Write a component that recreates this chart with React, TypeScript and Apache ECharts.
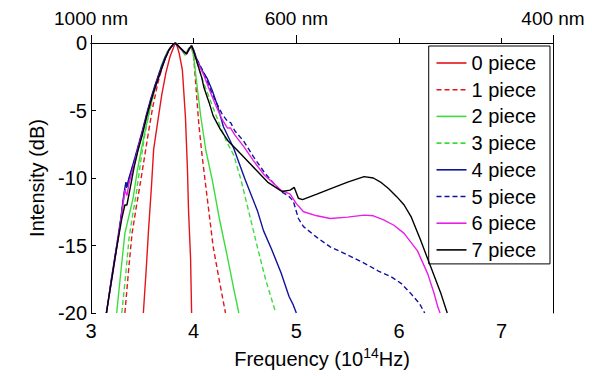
import React, { useEffect, useRef } from "react";
import * as echarts from "echarts";

const seriesNames = ["0 piece", "1 piece", "2 piece", "3 piece", "4 piece", "5 piece", "6 piece", "7 piece"];

const freq0 = [3.51, 3.54, 3.56, 3.59, 3.61, 3.65, 3.69, 3.73, 3.77, 3.81, 3.83, 3.86, 3.89, 3.92, 3.94, 3.95, 3.97, 3.98];
const db0 = [-20, -16.5, -13.9, -10.5, -7.9, -5.8, -3.8, -2.2, -1.0, -0.2, 0, -0.8, -2.0, -5.5, -9.5, -12.4, -16, -20];

const freq1 = [3.33, 3.37, 3.40, 3.44, 3.48, 3.52, 3.56, 3.60, 3.65, 3.70, 3.75, 3.80, 3.83, 3.87, 3.92, 3.95, 3.98, 4.00, 4.02, 4.05, 4.08, 4.11, 4.15, 4.19, 4.25, 4.31];
const db1 = [-20, -16.5, -14.1, -12.2, -10.4, -8.5, -6.6, -4.8, -3.0, -1.6, -0.6, -0.1, 0, -0.4, -0.9, -0.5, -0.3, -1.0, -3.0, -6.0, -8.2, -10.1, -12.6, -15.1, -17.6, -20];

const freq2 = [3.25, 3.29, 3.33, 3.37, 3.41, 3.45, 3.49, 3.53, 3.58, 3.63, 3.69, 3.74, 3.79, 3.83, 3.87, 3.92, 3.95, 3.98, 4.00, 4.03, 4.07, 4.12, 4.18, 4.25, 4.33, 4.39, 4.44];
const db2 = [-20, -17, -14.1, -12.8, -11.5, -9.5, -7.9, -6.4, -4.7, -3.2, -1.6, -0.7, -0.2, 0, -0.4, -0.9, -0.5, -0.3, -1.0, -3.0, -5.5, -8.0, -10.1, -13.0, -15.9, -18.2, -20];

const freq3 = [3.30, 3.34, 3.37, 3.40, 3.44, 3.48, 3.52, 3.57, 3.62, 3.68, 3.74, 3.79, 3.83, 3.87, 3.92, 3.95, 3.98, 4.02, 4.08, 4.14, 4.20, 4.26, 4.32, 4.39, 4.46, 4.54, 4.62, 4.70, 4.80];
const db3 = [-20, -17, -14.5, -13, -11.2, -9, -7, -5, -3.4, -1.8, -0.7, -0.2, 0, -0.4, -0.8, -0.4, -0.2, -1.2, -2.6, -3.8, -5.0, -6.2, -7.3, -8.3, -10.1, -12.6, -15.1, -17.5, -20];

const freq4 = [3.15, 3.20, 3.25, 3.29, 3.32, 3.34, 3.35, 3.37, 3.42, 3.46, 3.50, 3.54, 3.58, 3.62, 3.67, 3.72, 3.76, 3.80, 3.82, 3.86, 3.90, 3.93, 3.96, 3.98, 4.00, 4.03, 4.08, 4.13, 4.18, 4.23, 4.29, 4.39, 4.50, 4.62, 4.68, 4.76, 4.85, 4.93, 4.97, 5.00];
const db4 = [-20, -17.4, -15.0, -13.0, -11.2, -10.3, -10.6, -10.0, -8.7, -7.6, -6.5, -5.3, -4.2, -3.2, -2.1, -1.1, -0.5, -0.1, 0, -0.3, -0.6, -0.8, -0.4, -0.2, -0.5, -1.2, -2.0, -2.6, -3.5, -4.6, -6.2, -7.8, -10.1, -12.4, -13.9, -15.3, -17.0, -18.8, -19.4, -20];

const freq5 = [3.15, 3.20, 3.25, 3.29, 3.32, 3.34, 3.35, 3.37, 3.42, 3.46, 3.50, 3.54, 3.58, 3.62, 3.67, 3.72, 3.76, 3.80, 3.82, 3.86, 3.90, 3.93, 3.96, 3.98, 4.00, 4.03, 4.10, 4.16, 4.22, 4.28, 4.33, 4.36, 4.40, 4.49, 4.58, 4.69, 4.78, 4.85, 4.92, 4.97, 5.02, 5.07, 5.20, 5.33, 5.50, 5.66, 5.80, 5.92, 6.02, 6.12, 6.20, 6.25];
const db5 = [-20, -17.5, -15.1, -13.1, -11.4, -10.5, -10.8, -10.1, -8.8, -7.7, -6.6, -5.4, -4.3, -3.3, -2.2, -1.2, -0.5, -0.1, 0, -0.3, -0.6, -0.8, -0.4, -0.2, -0.6, -1.2, -2.2, -3.4, -4.4, -5.3, -5.8, -5.9, -6.5, -7.3, -8.4, -9.6, -10.4, -11.0, -11.3, -11.7, -13.0, -13.6, -14.4, -15.1, -15.7, -16.3, -16.9, -17.3, -17.8, -18.6, -19.3, -20];

const freq6 = [3.15, 3.20, 3.25, 3.29, 3.32, 3.33, 3.35, 3.37, 3.42, 3.46, 3.50, 3.54, 3.58, 3.62, 3.67, 3.72, 3.76, 3.80, 3.82, 3.86, 3.90, 3.93, 3.96, 3.98, 4.00, 4.03, 4.10, 4.16, 4.22, 4.28, 4.33, 4.36, 4.40, 4.49, 4.58, 4.69, 4.78, 4.85, 4.94, 5.00, 5.07, 5.20, 5.33, 5.50, 5.66, 5.75, 5.85, 5.95, 6.05, 6.18, 6.28, 6.34, 6.38, 6.40];
const db6 = [-20, -17.6, -15.2, -13.2, -11.5, -10.9, -11.3, -10.4, -9.0, -7.8, -6.7, -5.5, -4.4, -3.4, -2.3, -1.2, -0.5, -0.1, 0, -0.3, -0.6, -0.8, -0.4, -0.2, -0.6, -1.3, -2.4, -3.6, -4.7, -5.7, -6.3, -6.3, -6.8, -7.7, -8.7, -9.8, -10.4, -10.9, -11.2, -11.9, -12.5, -12.8, -13.0, -12.9, -12.75, -12.8, -13.1, -13.5, -14.1, -15.4, -17.1, -18.5, -19.6, -20];

const freq7 = [3.15, 3.20, 3.25, 3.30, 3.33, 3.35, 3.38, 3.42, 3.46, 3.50, 3.54, 3.58, 3.62, 3.67, 3.72, 3.76, 3.80, 3.82, 3.86, 3.90, 3.93, 3.96, 3.98, 4.00, 4.04, 4.08, 4.10, 4.15, 4.19, 4.26, 4.34, 4.42, 4.52, 4.62, 4.72, 4.78, 4.86, 4.94, 4.98, 5.02, 5.06, 5.20, 5.33, 5.50, 5.66, 5.75, 5.82, 5.90, 5.98, 6.05, 6.12, 6.21, 6.31, 6.41, 6.47];
const db7 = [-20, -17.6, -15.2, -13.0, -12.0, -12.0, -10.8, -9.2, -7.9, -6.8, -5.5, -4.4, -3.4, -2.3, -1.2, -0.5, -0.1, 0, -0.3, -0.6, -0.8, -0.4, -0.2, -0.6, -1.6, -2.6, -3.3, -4.4, -5.4, -6.4, -7.3, -7.9, -8.7, -9.5, -10.3, -10.6, -11.0, -10.9, -10.7, -11.5, -11.6, -11.2, -10.8, -10.3, -9.9, -10.0, -10.3, -10.8, -11.4, -12.0, -12.9, -14.6, -16.6, -18.6, -20];

const freqTicks = [3, 4, 5, 6, 7];
const dbTicks = [0, -5, -10, -15, -20];
const wavelengthTicks = [3, 5, 7.5];
const wavelengthLabels = ["1000 nm", "600 nm", "400 nm"];

const allFreq = [freq0, freq1, freq2, freq3, freq4, freq5, freq6, freq7];
const allDb = [db0, db1, db2, db3, db4, db5, db6, db7];

const colors = ["#e4141b", "#e4141b", "#3ddc3d", "#3ddc3d", "#12129c", "#12129c", "#e81ee8", "#000000"];
const dashed = [false, true, false, true, false, true, false, false];

const FONT = "Liberation Sans, Arial, sans-serif";

export default function App() {
  const ref = useRef<HTMLDivElement>(null);
  useEffect(() => {
    if (!ref.current) return;
    const chart = echarts.init(ref.current, null, { renderer: "svg" });
    const series = seriesNames.map((name, i) => ({
      name,
      type: "line",
      xAxisIndex: 0,
      yAxisIndex: 0,
      data: allFreq[i].map((f, j) => [f, allDb[i][j]]),
      symbol: "none",
      showSymbol: false,
      smooth: false,
      lineStyle: { color: colors[i], width: 1.4, type: dashed[i] ? [5, 3] : "solid" },
      itemStyle: { color: colors[i] },
      z: 2 + i,
    }));
    chart.setOption({
      animation: false,
      backgroundColor: "#ffffff",
      textStyle: { fontFamily: FONT },
      grid: { left: 91, right: 39, top: 43, bottom: 63, containLabel: false },
      legend: {
        show: true,
        orient: "vertical",
        right: 42,
        top: 46,
        data: seriesNames,
        itemWidth: 30,
        itemHeight: 14,
        itemGap: 6.7,
        padding: [7, 14, 4, 7],
        borderColor: "#000",
        borderWidth: 1,
        backgroundColor: "#fff",
        itemStyle: { color: "rgba(0,0,0,0)", borderColor: "rgba(0,0,0,0)", borderWidth: 0, opacity: 0 },
        lineStyle: { width: 1.6 },
        textStyle: { fontSize: 20, color: "#000", fontFamily: FONT },
      },
      xAxis: [
        {
          type: "value",
          position: "bottom",
          min: 3,
          max: 7.5,
          interval: 1,
          name: "Frequency (10{sup|14}Hz)",
          nameLocation: "middle",
          nameGap: 29,
          nameTextStyle: {
            fontSize: 20,
            color: "#000",
            fontFamily: FONT,
            rich: { sup: { fontSize: 14, color: "#000", fontFamily: FONT, padding: [0, 0, 12, 0] } },
          },
          axisLine: { show: true, lineStyle: { color: "#000", width: 1 } },
          axisTick: { show: true, inside: true, length: 5, customValues: freqTicks, lineStyle: { color: "#000" } },
          axisLabel: { customValues: freqTicks, fontSize: 20, color: "#000", margin: 8, fontFamily: FONT },
          splitLine: { show: false },
        },
        {
          type: "value",
          position: "top",
          min: 3,
          max: 7.5,
          axisLine: { show: true, lineStyle: { color: "#000", width: 1 } },
          axisTick: { show: true, inside: false, length: 8, customValues: wavelengthTicks, lineStyle: { color: "#000" } },
          axisLabel: {
            customValues: wavelengthTicks,
            fontSize: 19,
            color: "#000",
            margin: 15,
            fontFamily: FONT,
            formatter: (v: number) => {
              const k = wavelengthTicks.indexOf(v);
              return k >= 0 ? wavelengthLabels[k] : "";
            },
          },
          splitLine: { show: false },
        },
      ],
      yAxis: [
        {
          type: "value",
          position: "left",
          min: -20,
          max: 0,
          interval: 5,
          name: "Intensity (dB)",
          nameLocation: "middle",
          nameRotate: 90,
          nameGap: 38,
          nameTextStyle: { fontSize: 20, color: "#000", fontFamily: FONT },
          axisLine: { show: true, lineStyle: { color: "#000", width: 1 } },
          axisTick: { show: true, inside: true, length: 5, customValues: dbTicks, lineStyle: { color: "#000" } },
          axisLabel: { customValues: dbTicks, fontSize: 20, color: "#000", margin: 4, fontFamily: FONT },
          splitLine: { show: false },
        },
        {
          type: "value",
          position: "right",
          min: -20,
          max: 0,
          interval: 5,
          axisLine: { show: true, lineStyle: { color: "#000", width: 1 } },
          axisTick: { show: false },
          axisLabel: { show: false },
          splitLine: { show: false },
        },
      ],
      series,
    });
    return () => chart.dispose();
  }, []);
  return (
    <div
      ref={ref}
      style={{ position: "fixed", left: 0, top: 0, width: 592, height: 376, background: "#fff" }}
    />
  );
}
